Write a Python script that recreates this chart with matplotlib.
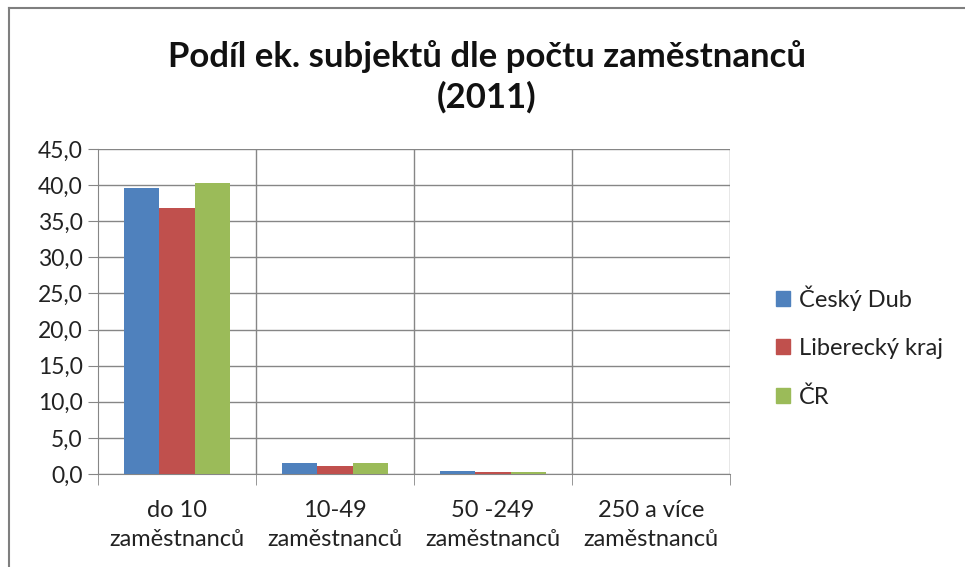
import matplotlib
matplotlib.use("Agg")
import matplotlib.pyplot as plt
import numpy as np
from matplotlib.lines import Line2D
from matplotlib.patches import Patch

categories = ["do 10\nzaměstnanců", "10-49\nzaměstnanců", "50 -249\nzaměstnanců", "250 a více\nzaměstnanců"]
series_names = ["Český Dub", "Liberecký kraj", "ČR"]
cesky_dub = [39.6, 1.5, 0.35, 0.02]
liberecky_kraj = [36.9, 1.15, 0.25, 0.02]
cr = [40.3, 1.5, 0.3, 0.02]
colors = ["#4F81BD", "#C0504D", "#9BBB59"]
yticks = [0, 5, 10, 15, 20, 25, 30, 35, 40, 45]

plt.rcParams['font.family'] = ['Lato', 'DejaVu Sans']

W, H = 965, 567
fig = plt.figure(figsize=(W/100, H/100), dpi=100)
ax = fig.add_axes([98/W, 1-474/H, (730-98)/W, (474-149)/H])

x = np.arange(len(categories))
bw = 1/4.5
for i, (vals, c, n) in enumerate(zip([cesky_dub, liberecky_kraj, cr], colors, series_names)):
    ax.bar(x + (i-1)*bw, vals, width=bw, color=c, label=n, zorder=3)

ax.set_xlim(-0.5, len(categories)-0.5)
ax.set_ylim(0, 45)
ax.set_yticks(yticks)
ax.set_yticklabels([f"{v:.1f}".replace(".", ",") for v in yticks], fontsize=16.5, color="#222222")
ax.set_xticks(x)
ax.set_xticklabels(categories, fontsize=17, color="#222222", linespacing=1.45)
ax.tick_params(axis='x', length=0, pad=19)
ax.tick_params(axis='y', length=7, color="#868686", pad=4)
bounds = np.arange(-0.5, len(categories), 1.0)
ax.set_xticks(bounds, minor=True)
ax.tick_params(axis='x', which='minor', length=8, color="#868686", direction='out')
ax.grid(axis='y', color="#868686", linewidth=1, zorder=0)
for b in bounds[1:]:
    ax.axvline(b, color="#868686", linewidth=1, zorder=0)
for s in ["top", "right"]:
    ax.spines[s].set_visible(False)
ax.spines["left"].set_color("#868686")
ax.spines["bottom"].set_color("#868686")

fig.text(487/W, 1-57/H, "Podíl ek. subjektů dle počtu zaměstnanců", ha="center", va="center",
         fontsize=25, fontweight="bold", color="#111111")
fig.text(487/W, 1-97/H, "(2011)", ha="center", va="center", fontsize=25, fontweight="bold", color="#111111")

handles = [Patch(facecolor=c, edgecolor=c) for c in colors]
leg = fig.legend(handles, series_names, loc="upper left", bbox_to_anchor=(755/W, 1-264/H),
                 frameon=False, fontsize=17, handlelength=0.6, handleheight=0.6,
                 handletextpad=0.35, labelspacing=1.15, labelcolor="#222222")

fig.add_artist(Line2D([9/W, 9/W], [0, 1-8/H], transform=fig.transFigure, color="#7f7f7f", lw=1.5))
fig.add_artist(Line2D([9/W, 1], [1-8/H, 1-8/H], transform=fig.transFigure, color="#7f7f7f", lw=1.5))

fig.savefig("out.png", dpi=100)
